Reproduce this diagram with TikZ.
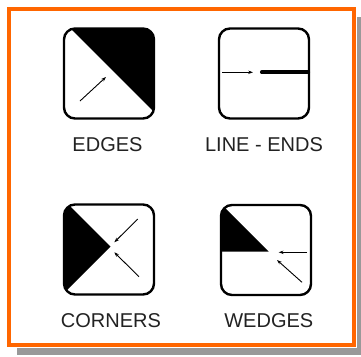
\documentclass[tikz,border=0pt]{standalone}
\usepackage{fontspec}
\setmainfont{Liberation Sans}
\usetikzlibrary{arrows.meta}
\definecolor{frameorange}{HTML}{FF6600}
\definecolor{shadowgray}{HTML}{999999}
\definecolor{labelgray}{HTML}{222222}
\tikzset{
  icon/.style={draw=black, line width=2.4pt, rounded corners=11pt, minimum width=90pt, minimum height=90pt, inner sep=0pt},
  lbl/.style={font=\fontsize{20}{24}\selectfont, text=labelgray, inner sep=0pt},
  arr/.style={line width=0.9pt, -{Stealth[length=4.8pt,width=3.4pt]}},
}
\begin{document}
\begin{tikzpicture}[x=1pt,y=-1pt]
\useasboundingbox (0,0) rectangle (361,356);
% shadow and frame
\fill[shadowgray] (17,17) rectangle (361,355);
\draw[white, line width=6pt, fill=white] (9,9) rectangle (354,345);
\draw[frameorange, line width=4pt] (9,9) rectangle (354,345);

% EDGES
\begin{scope}
  \clip[rounded corners=11pt] (64,28.5) rectangle (154,118.5);
  \fill[black] (60,18) -- (170,18) -- (170,128) -- cycle;
\end{scope}
\node[icon] (edges) at (109,73.5) {};
\draw[arr] (80,101) -- (106,77);
\node[lbl] (edgeslbl) at (107.5,144.5) {EDGES};

% LINE - ENDS
\node[icon] (lineends) at (264,73.5) {};
\draw[arr] (222,72.3) -- (253,72.3);
\draw[line width=4.2pt, line cap=round] (262,72.3) -- (308,72.3);
\node[lbl] (lineendslbl) at (264,144.5) {LINE - ENDS};

% CORNERS
\begin{scope}
  \clip[rounded corners=11pt] (64,204.5) rectangle (154,294.5);
  \fill[black] (110.5,246.5) -- (50,186) -- (50,307) -- cycle;
\end{scope}
\node[icon] (corners) at (109,249.5) {};
\draw[arr] (137.7,219) -- (114.3,242.3);
\draw[arr] (139,276.7) -- (114.3,252.3);
\node[lbl] (cornerslbl) at (111,320.5) {CORNERS};

% WEDGES
\begin{scope}
  \clip[rounded corners=11pt] (221,205) rectangle (311,295);
  \fill[black] (268.5,251.5) -- (200,183) -- (200,251.5) -- cycle;
\end{scope}
\node[icon] (wedges) at (266,250) {};
\draw[arr] (307,252.3) -- (278.7,252.3);
\draw[arr] (302,282.3) -- (277,260);
\node[lbl] (wedgeslbl) at (268.8,320.5) {WEDGES};
\end{tikzpicture}
\end{document}
